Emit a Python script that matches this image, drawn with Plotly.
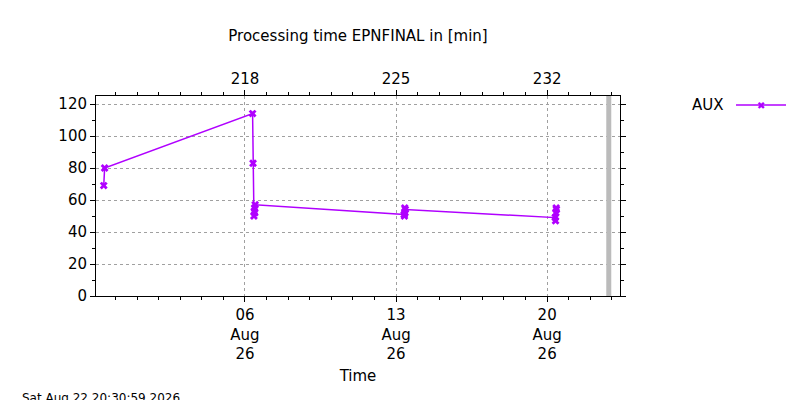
import plotly.graph_objects as go
from datetime import datetime

times = ["2026-07-30 11:00","2026-07-30 12:00","2026-08-06 08:30","2026-08-06 09:00",
         "2026-08-06 10:00","2026-08-06 10:20","2026-08-06 10:40","2026-08-06 11:00","2026-08-06 11:20",
         "2026-08-13 09:00","2026-08-13 09:20","2026-08-13 09:40","2026-08-13 10:00","2026-08-13 10:20",
         "2026-08-20 09:00","2026-08-20 09:20","2026-08-20 09:40","2026-08-20 10:00","2026-08-20 10:20"]
values = [69,80,114,83,50,53,55,52,57,51,50,55,52,54,49,47,52,55,54]
tick_dates = ["2026-08-06","2026-08-13","2026-08-20"]
tick_labels = ["06<br>Aug<br>26","13<br>Aug<br>26","20<br>Aug<br>26"]
top_ticks = [218,225,232]
now = "2026-08-22 20:30:59"

x0 = datetime(2026,7,30,2,24); x1 = datetime(2026,8,23,9,0)
doy0 = (x0-datetime(2026,1,1)).total_seconds()/86400+1
doy1 = (x1-datetime(2026,1,1)).total_seconds()/86400+1
col = "#b000ff"
fig = go.Figure()
fig.add_trace(go.Scatter(x=times, y=values, mode="lines+markers", name="AUX", showlegend=False,
    line=dict(color=col, width=1.5), marker=dict(symbol="x", size=7, color=col)))
fig.add_trace(go.Scatter(x=[218], y=[None], xaxis="x2", showlegend=False))
fig.add_shape(type="line", x0=now, x1=now, y0=0, y1=1, yref="paper",
    line=dict(color="#bbbbbb", width=5))
# legend sample (paper coords): plot width 524 px
fig.add_shape(type="line", xref="paper", yref="paper", x0=(728-88)/524, x1=(778-88)/524,
    y0=(288-97)/200, y1=(288-97)/200, line=dict(color=col, width=1.5))
grid = dict(showgrid=True, gridcolor="#a0a0a0", griddash="dot", gridwidth=1)
fig.update_layout(
    width=800, height=400, plot_bgcolor="white", paper_bgcolor="white",
    margin=dict(l=88, r=188, t=88, b=112, autoexpand=False),
    font=dict(family="DejaVu Sans", size=15, color="black"),
    title=dict(text="Processing time EPNFINAL in [min]", x=0.4375, xanchor="center", y=0.945, font=dict(size=15)),
    xaxis=dict(range=[x0, x1], tickvals=tick_dates, ticktext=tick_labels, ticks="outside",
        showline=True, linecolor="black", tickcolor="black", automargin=False,
        minor=dict(dtick=86400000, ticks="outside", ticklen=3, tickcolor="black"), **grid,
        title=dict(text="Time", standoff=8, font=dict(size=15))),
    xaxis2=dict(range=[doy0, doy1], overlaying="x", side="top", tickvals=top_ticks, automargin=False,
        ticks="outside", showline=True, linecolor="black", showgrid=False, tickcolor="black",
        minor=dict(dtick=1, ticks="outside", ticklen=3, tickcolor="black")),
    yaxis=dict(range=[0,125], dtick=20, ticks="outside", showline=True, linecolor="black",
        mirror="ticks", tickcolor="black", zeroline=False, automargin=False,
        minor=dict(dtick=10, ticks="outside", ticklen=3, tickcolor="black"), **grid),
    annotations=[
        dict(text="Sat Aug 22 20:30:59 2026", xref="paper", yref="paper",
            x=-76/524, y=-(390-288)/200, xanchor="left", yanchor="middle", showarrow=False, font=dict(size=12)),
        dict(text="AUX", xref="paper", yref="paper", x=(718-88)/524, y=(288-97)/200,
            xanchor="right", yanchor="middle", showarrow=False, font=dict(size=15)),
        dict(text="✖", xref="paper", yref="paper", x=(753-88)/524, y=(288-97)/200,
            xanchor="center", yanchor="middle", showarrow=False, font=dict(size=10, color=col)),
    ],
)
fig.write_html("out.html")
